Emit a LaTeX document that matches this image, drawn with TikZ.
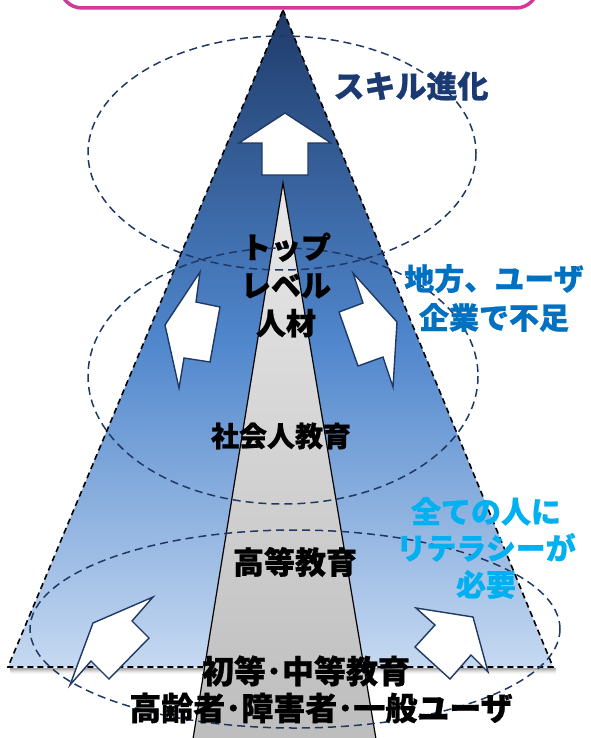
\documentclass[tikz,border=0pt]{standalone}
\usepackage{fontspec}
\newfontfamily\jp[BoldFeatures={FakeBold=0.8}]{Noto Sans CJK JP}
\usetikzlibrary{shapes.geometric}
\definecolor{navy}{HTML}{1F3864}
\definecolor{skill}{HTML}{1B3A72}
\definecolor{midblue}{HTML}{0070C0}
\definecolor{cyanblue}{HTML}{00B0F0}
\definecolor{magentab}{HTML}{D0399A}
\definecolor{tritop}{HTML}{1F3B6A}
\definecolor{trimid}{HTML}{4F86CC}
\definecolor{tribot}{HTML}{C6D9F1}
\tikzset{
  ring/.style={draw=navy, line width=1.5pt, dash pattern=on 8pt off 5pt},
  whitearrow/.style={fill=white, draw=navy, line width=1.4pt, line join=miter},
  lbl/.style={font=\jp\bfseries, align=center, inner sep=0pt},
}
\begin{document}
\begin{tikzpicture}[x=1pt,y=-1pt]
\useasboundingbox (0,0) rectangle (590,738);
% magenta box at top
\draw[magentab, line width=3.5pt, rounded corners=22pt] (60,-60) rectangle (538,8);
% shadow under base
\foreach \i/\o in {1/0.35,2/0.28,3/0.2,4/0.13,5/0.07,6/0.03}
  \draw[black, opacity=\o, line width=1pt] (10,667+\i) -- (556,667+\i);
% big triangle
\shade[top color=tritop, bottom color=tribot, middle color=trimid] (283,10) -- (553,667) -- (8,667) -- cycle;
\draw[black, line width=1.6pt, dash pattern=on 6pt off 4pt] (283,10) -- (553,667) -- (8,667) -- cycle;
% inner grey triangle
\shade[top color={rgb,255:red,232;green,232;blue,232}, bottom color={rgb,255:red,189;green,189;blue,189}] (283,183) -- (377,745) -- (192,745) -- cycle;
\draw[black, line width=1.2pt] (192,745) -- (283,183) -- (377,745);
% dashed ellipses
\draw[ring] (282,153) ellipse [x radius=194, y radius=117];
\draw[ring] (283,376) ellipse [x radius=195, y radius=128];
\draw[ring] (295,629) ellipse [x radius=265, y radius=99];
% arrows
\draw[whitearrow] (285,113) -- (331,143) -- (308,143) -- (308,175) -- (262,175) -- (262,143) -- (239,143) -- cycle;
\draw[whitearrow] (200,272) -- (196,302) -- (220,307) -- (210,362) -- (184,358) -- (179,388) -- (165,325) -- cycle;
\draw[whitearrow] (353,273) -- (363,303) -- (339,312) -- (358,366) -- (383,357) -- (393,387) -- (397,322) -- cycle;
\draw[whitearrow] (153,597) -- (132,621) -- (149,638) -- (109,679) -- (91,661) -- (70,685) -- (93,623) -- cycle;
\draw[whitearrow] (416,608) -- (473,617) -- (488,672) -- (471,655) -- (450,679) -- (415,647) -- (435,625) -- cycle;
% labels
\node[lbl, text=skill, font=\jp\bfseries\fontsize{31}{36}\selectfont] (skill) at (411,86) {スキル進化};
\node[lbl, text=midblue, font=\jp\bfseries\fontsize{30}{39}\selectfont] (chiho) at (494,298) {地方、ユーザ\\企業で不足};
\node[lbl, text=cyanblue, font=\jp\bfseries\fontsize{30}{36.5}\selectfont] (zenin) at (486,548) {全ての人に\\リテラシーが\\必要};
\node[lbl, text=black, font=\jp\bfseries\fontsize{30}{38}\selectfont] (top) at (286,285) {トップ\\レベル\\人材};
\node[lbl, text=black, font=\jp\bfseries\fontsize{28}{34}\selectfont] (shakai) at (281,436) {社会人教育};
\node[lbl, text=black, font=\jp\bfseries\fontsize{31}{36}\selectfont] (koto) at (295,562) {高等教育};
\node[lbl, text=black, font=\jp\bfseries\fontsize{32}{36}\selectfont] (shoto) at (306,671) {初等･中等教育};
\node[lbl, text=black, font=\jp\bfseries\fontsize{32}{36}\selectfont] (korei) at (321,708) {高齢者･障害者･一般ユーザ};
\end{tikzpicture}
\end{document}
